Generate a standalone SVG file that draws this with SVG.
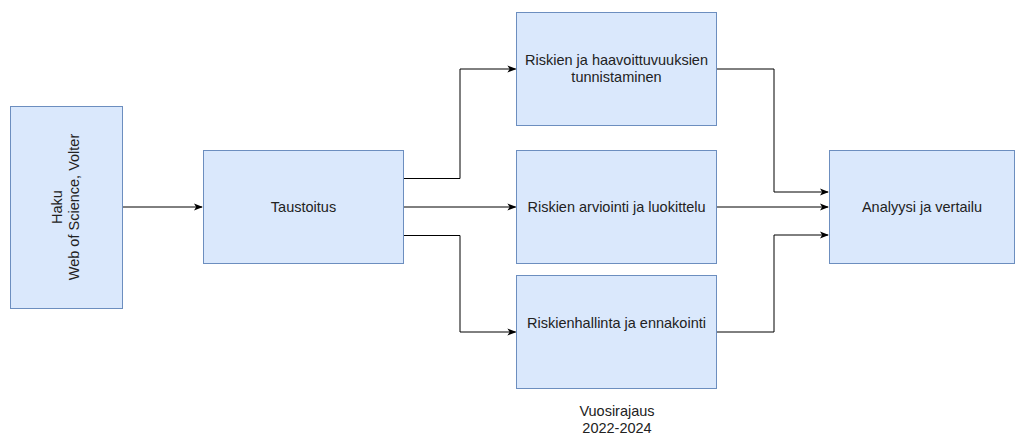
<svg xmlns="http://www.w3.org/2000/svg" width="1025" height="438" viewBox="0 0 1025 438">
<style>
.box{fill:#dae8fc;stroke:#6c8ebf;stroke-width:1}
.t{font-family:"Liberation Sans",Arial,sans-serif;font-size:14.5px;fill:#222;text-anchor:middle}
.c{fill:none;stroke:#000;stroke-width:1}
</style>
<defs>
<marker id="a" viewBox="0 0 10 10" refX="9" refY="5" markerWidth="9" markerHeight="9" markerUnits="userSpaceOnUse" orient="auto">
<path d="M0,1 L10,5 L0,9 L2.5,5 Z" fill="#000"/>
</marker>
</defs>
<rect width="1025" height="438" fill="#fff"/>
<g id="connectors">
<path class="c" d="M122,207 H202" marker-end="url(#a)"/>
<path class="c" d="M404,178.5 H460 V69 H515.5" marker-end="url(#a)"/>
<path class="c" d="M404,207 H515.5" marker-end="url(#a)"/>
<path class="c" d="M404,235.5 H460 V332 H515.5" marker-end="url(#a)"/>
<path class="c" d="M717,69 H774 V192 H828" marker-end="url(#a)"/>
<path class="c" d="M717,207 H828" marker-end="url(#a)"/>
<path class="c" d="M717,332 H774 V235 H828" marker-end="url(#a)"/>
</g>
<g id="haku">
<rect class="box" x="10.5" y="106.5" width="112" height="202"/>
<text class="t" transform="translate(66,207) rotate(-90)"><tspan x="0" y="-4">Haku</tspan><tspan x="0" y="13">Web of Science, Volter</tspan></text>
</g>
<g id="taustoitus">
<rect class="box" x="203.5" y="150.5" width="200" height="113"/>
<text class="t" x="303.5" y="212">Taustoitus</text>
</g>
<g id="tunnistaminen">
<rect class="box" x="516.5" y="12.5" width="200" height="113"/>
<text class="t" x="616.5" y="65">Riskien ja haavoittuvuuksien</text>
<text class="t" x="616.5" y="82">tunnistaminen</text>
</g>
<g id="arviointi">
<rect class="box" x="516.5" y="150.5" width="200" height="113"/>
<text class="t" x="616.5" y="212">Riskien arviointi ja luokittelu</text>
</g>
<g id="hallinta">
<rect class="box" x="516.5" y="275.5" width="200" height="113"/>
<text class="t" x="616.5" y="328">Riskienhallinta ja ennakointi</text>
</g>
<g id="analyysi">
<rect class="box" x="829.5" y="150.5" width="185" height="113"/>
<text class="t" x="922" y="212">Analyysi ja vertailu</text>
</g>
<g id="vuosirajaus">
<text class="t" x="617" y="416">Vuosirajaus</text>
<text class="t" x="617" y="433">2022-2024</text>
</g>
</svg>
